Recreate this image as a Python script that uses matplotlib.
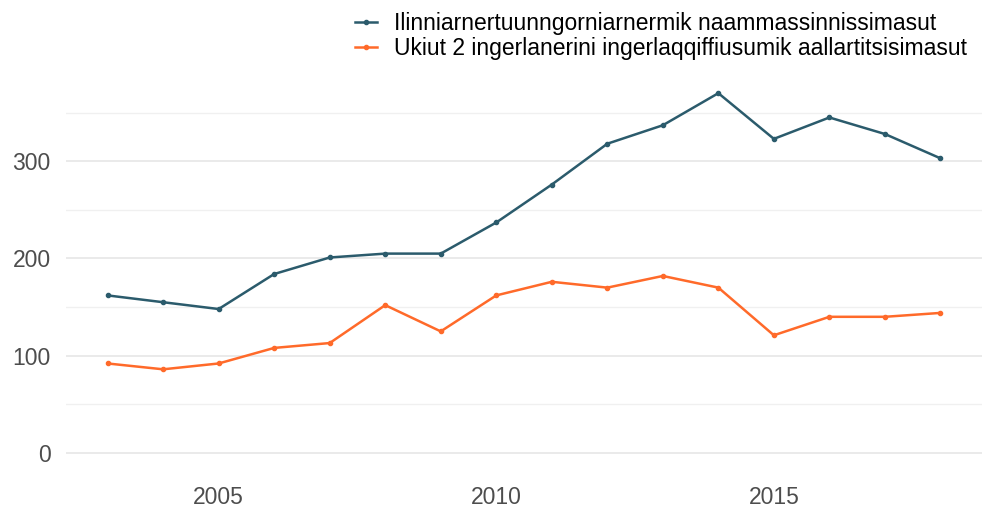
import matplotlib.pyplot as plt
from matplotlib.ticker import MultipleLocator

plt.rcParams['font.family'] = ['Liberation Sans', 'DejaVu Sans']

years = list(range(2003, 2019))
# graduates
completed = [162, 155, 148, 184, 201, 205, 205, 237, 276, 318, 337, 370, 323, 345, 328, 303]
# completed within 2 years of expected time
on_time = [92, 86, 92, 108, 113, 152, 125, 162, 176, 170, 182, 170, 121, 140, 140, 144]

labels = ['Ilinniarnertuunngorniarnermik naammassinnissimasut',
          'Ukiut 2 ingerlanerini ingerlaqqiffiusumik aallartitsisimasut']
colors = ['#2b5b6c', '#ff6a2a']

fig = plt.figure(figsize=(9.92, 5.08), dpi=100)
ax = fig.add_axes([0.0665, 0.073, 0.9235, 0.779])

ax.plot(years, completed, color=colors[0], lw=1.8, marker='o', ms=3, label=labels[0])
ax.plot(years, on_time, color=colors[1], lw=1.8, marker='o', ms=3, label=labels[1])

ax.set_xlim(2002.25, 2018.75)
ax.set_ylim(-18.5, 388.5)
ax.set_xticks([2005, 2010, 2015])
ax.yaxis.set_major_locator(MultipleLocator(100))
ax.yaxis.set_minor_locator(MultipleLocator(50))
ax.grid(axis='y', which='major', color='#e6e6e6', lw=1.2)
ax.grid(axis='y', which='minor', color='#f0f0f0', lw=1)
ax.grid(axis='x', visible=False)
ax.set_axisbelow(True)
for s in ax.spines.values():
    s.set_visible(False)
ax.tick_params(axis='both', which='both', length=0, labelsize=16.5, labelcolor='#4d4d4d')
ax.tick_params(axis='y', pad=11)
ax.tick_params(axis='x', pad=11)

leg = fig.legend(loc='upper left', bbox_to_anchor=(0.337, 1.016), frameon=False,
                 fontsize=16.5, handlelength=0.95, handletextpad=0.75, labelspacing=0.05)

fig.savefig('out.png', dpi=100)
